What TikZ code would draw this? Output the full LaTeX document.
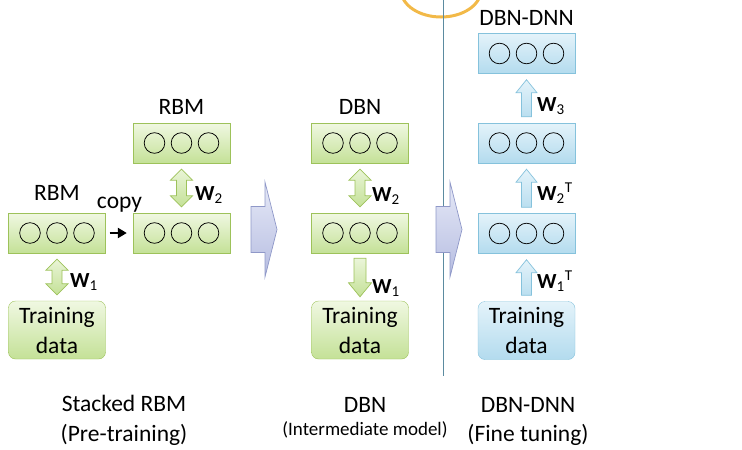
\documentclass[tikz,border=0pt]{standalone}
\usepackage{fontspec}
\setmainfont{Carlito}
\usetikzlibrary{calc,arrows.meta}

\definecolor{gtop}{HTML}{F0F8E2}
\definecolor{gbot}{HTML}{C4E197}
\definecolor{gline}{HTML}{9DC25A}
\definecolor{btop}{HTML}{E4F3FA}
\definecolor{bbot}{HTML}{B3DBEE}
\definecolor{bline}{HTML}{85C2DC}
\definecolor{ltop}{HTML}{E6E9F7}
\definecolor{lbot}{HTML}{B6BDE1}
\definecolor{lline}{HTML}{8F98C8}
\definecolor{divcol}{HTML}{5B8BA0}
\definecolor{ringcol}{HTML}{F2B948}

\tikzset{
  txt/.style={font=\fontsize{23.5}{27}\selectfont, inner sep=0pt},
  smalltxt/.style={font=\fontsize{19}{22}\selectfont, inner sep=0pt},
  wlbl/.style={font=\fontsize{21.5}{24}\selectfont, inner sep=0pt, anchor=base west},
  layerbox/.style={minimum width=97pt, minimum height=40pt, inner sep=0pt},
  databox/.style={minimum width=97pt, minimum height=58pt, inner sep=0pt,
    rounded corners=7pt, align=center, font=\fontsize{23.5}{30}\selectfont},
  greenfill/.style={draw=gline, top color=gtop, bottom color=gbot},
  bluefill/.style={draw=bline, top color=btop, bottom color=bbot},
  unit/.style={draw=black, line width=0.75pt},
  % block arrows between a box above (start) and a box below (target)
  dblblock/.style={to path={let \p1=(\tikztostart), \p2=(\tikztotarget) in
    (\x1,\y1-6pt) -- (\x1+11pt,\y1-17pt) -- (\x1+5pt,\y1-17pt) --
    (\x1+5pt,\y2+17pt) -- (\x1+11pt,\y2+17pt) -- (\x1,\y2+6pt) --
    (\x1-11pt,\y2+17pt) -- (\x1-5pt,\y2+17pt) -- (\x1-5pt,\y1-17pt) --
    (\x1-11pt,\y1-17pt) -- cycle}},
  downblock/.style={to path={let \p1=(\tikztostart), \p2=(\tikztotarget) in
    (\x1-6pt,\y1-5pt) -- (\x1-6pt,\y2+18pt) -- (\x1-11.5pt,\y2+18pt) --
    (\x1,\y2+4pt) -- (\x1+11.5pt,\y2+18pt) -- (\x1+6pt,\y2+18pt) --
    (\x1+6pt,\y1-5pt) -- cycle}},
  % start is the lower box, target the upper one
  upblock/.style={to path={let \p1=(\tikztostart), \p2=(\tikztotarget) in
    (\x1-5pt,\y1+6pt) -- (\x1-5pt,\y2-19pt) -- (\x1-10.5pt,\y2-19pt) --
    (\x1,\y2-6pt) -- (\x1+10.5pt,\y2-19pt) -- (\x1+5pt,\y2-19pt) --
    (\x1+5pt,\y1+6pt) -- cycle}},
  garrow/.style={draw=gline, top color=gtop, bottom color=gbot, line width=0.7pt},
  barrow/.style={draw=bline, top color=btop, bottom color=bbot, line width=0.7pt},
  stagearrow/.style={draw=lline, top color=ltop, bottom color=lbot, line width=0.7pt},
  copyarrow/.style={line width=2.8pt, -{Triangle[length=9pt,width=10pt]},
    shorten <=4pt, shorten >=6pt},
}

\newcommand{\units}[1]{%
  \foreach \dx in {-27,0,27} \draw[unit] ([xshift=\dx pt]#1.center) circle (10.3pt);}

\begin{document}
\begin{tikzpicture}[x=1pt,y=-1pt]
\useasboundingbox (0,0) rectangle (742,450);

% ring at the top edge
\begin{scope}
  \clip (0,0) rectangle (742,450);
  \draw[ringcol, line width=3pt] (441,-10) ellipse [x radius=40, y radius=27];
\end{scope}

% divider between DBN and DBN-DNN
\coordinate (dtop) at (443,0);
\coordinate (dbot) at (443,376);
\draw[divcol, line width=0.8pt] (dtop) -- (dbot);

% ---------- stacked RBM ----------
\node[layerbox, greenfill] (L1) at (57,233) {};
\node[layerbox, greenfill] (L2) at (181.5,233) {};
\node[layerbox, greenfill] (L3) at (181.5,143) {};
\node[databox, greenfill] (Ld) at (57,330) {Training\\data};
\units{L1} \units{L2} \units{L3}
\node[txt, anchor=base] (Lr1) at (57,200) {RBM};
\node[txt, anchor=base] (Lr2) at (181.5,114) {RBM};
\node[txt, anchor=base] (Lcp) at (119.5,208) {copy};
\draw[copyarrow] (L1.east) -- (L2.west);
\path[garrow] (L1.south) to[dblblock] (Ld.north);
\path[garrow] (L3.south) to[dblblock] (L2.north);
\node[wlbl] (Lw1) at (70,287) {\textbf{W}\textsubscript{1}};
\node[wlbl] (Lw2) at (195,200) {\textbf{W}\textsubscript{2}};

% ---------- DBN ----------
\node[layerbox, greenfill] (M1) at (360,233) {};
\node[layerbox, greenfill] (M2) at (360,143) {};
\node[databox, greenfill] (Md) at (360,330) {Training\\data};
\units{M1} \units{M2}
\node[txt, anchor=base] (Mr) at (360,114) {DBN};
\path[garrow] (M2.south) to[dblblock] (M1.north);
\path[garrow] (M1.south) to[downblock] (Md.north);
\node[wlbl] (Mw2) at (372,201) {\textbf{W}\textsubscript{2}};
\node[wlbl] (Mw1) at (372,293) {\textbf{W}\textsubscript{1}};

% ---------- DBN-DNN ----------
\node[layerbox, bluefill] (R1) at (526.5,233.5) {};
\node[layerbox, bluefill] (R2) at (526.5,143) {};
\node[layerbox, bluefill] (R3) at (526.5,53.5) {};
\node[databox, bluefill] (Rd) at (526.5,330.5) {Training\\data};
\units{R1} \units{R2} \units{R3}
\node[txt, anchor=base] (Rr) at (526.5,25) {DBN-DNN};
\path[barrow] (Rd.north) to[upblock] (R1.south);
\path[barrow] (R1.north) to[upblock] (R2.south);
\path[barrow] (R2.north) to[upblock] (R3.south);
\node[wlbl] (Rw3) at (537,111) {\textbf{W}\textsubscript{3}};
\node[wlbl] (Rw2) at (537,200) {\textbf{W}\textsubscript{2}\textsuperscript{T}};
\node[wlbl] (Rw1) at (537,288) {\textbf{W}\textsubscript{1}\textsuperscript{T}};

% ---------- stage arrows ----------
\coordinate (s1) at (251,229.5);
\coordinate (s2) at (436,229.5);
\foreach \s in {s1,s2}
  \path[stagearrow] (\s) ++(0,-23) -- ++(14,0) -- ++(0,-24.5) -- ++(12,47.5)
    -- ++(-12,47.5) -- ++(0,-24.5) -- ++(-14,0) -- cycle;

% ---------- captions ----------
\node[txt, anchor=base] (c1a) at (124,411) {Stacked RBM};
\node[txt, anchor=base] (c1b) at (124,441) {(Pre-training)};
\node[txt, anchor=base] (c2a) at (365,412) {DBN};
\node[smalltxt, anchor=base] (c2b) at (365,435) {(Intermediate model)};
\node[txt, anchor=base] (c3a) at (528,412) {DBN-DNN};
\node[txt, anchor=base] (c3b) at (528,441) {(Fine tuning)};
\end{tikzpicture}
\end{document}
